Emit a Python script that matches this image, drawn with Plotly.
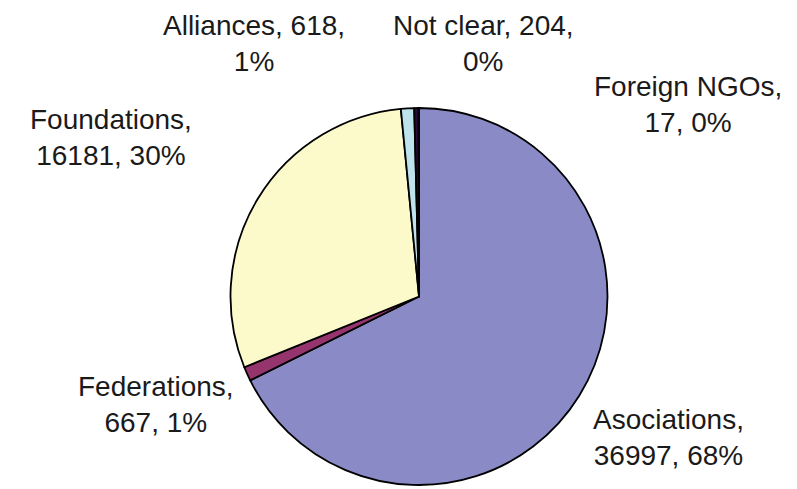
import plotly.graph_objects as go

labels = ["Asociations", "Federations", "Foundations", "Alliances", "Not clear", "Foreign NGOs"]
values = [36997, 667, 16181, 618, 204, 17]
colors = ["#8A8AC6", "#95346D", "#FCF9CA", "#BFE3EC", "#2B0A3D", "#FF8080"]
# where the line break falls in each label ("name" -> after name, "value" -> after value)
breaks = ["name", "name", "name", "value", "value", "name"]
# label centre positions in pixels (x, y from top)
label_pos = [(668, 437), (156, 404), (111, 137), (254, 43), (483, 43), (688, 105)]

W, H = 797, 489
total = sum(values)

fig = go.Figure(go.Pie(
    labels=labels,
    values=values,
    sort=False,
    direction="clockwise",
    rotation=0,
    marker=dict(colors=colors, line=dict(color="black", width=1.8)),
    textinfo="none",
    hoverinfo="label+value+percent",
    domain=dict(x=[230.5 / W, 607.5 / W], y=[(H - 485) / H, (H - 108) / H]),
    showlegend=False,
))

annotations = []
for lab, v, b, (px, py) in zip(labels, values, breaks, label_pos):
    pct = round(v / total * 100)
    if b == "name":
        txt = f"{lab},<br>{v}, {pct}%"
    else:
        txt = f"{lab}, {v},<br>{pct}%"
    annotations.append(dict(
        text=txt, x=px / W, y=1 - py / H, xref="paper", yref="paper",
        xanchor="center", yanchor="middle", showarrow=False, align="center",
        font=dict(family="Liberation Sans, Arial, sans-serif", size=28, color="#1a1a1a"),
    ))

fig.update_layout(
    width=W, height=H,
    margin=dict(l=0, r=0, t=0, b=0),
    paper_bgcolor="white", plot_bgcolor="white",
    annotations=annotations,
)

fig.write_html("out.html", config={"displayModeBar": False},
               post_script="document.body.style.margin='0';")
